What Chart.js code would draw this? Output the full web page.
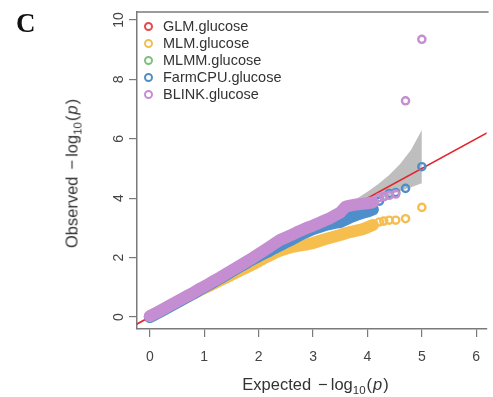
<!DOCTYPE html>
<html>
<head>
<meta charset="utf-8">
<script src="https://cdn.jsdelivr.net/npm/chart.js@4.4.0/dist/chart.umd.min.js"></script>
<style>
  body { margin: 0; background: #fff; font-family: "Liberation Sans", Arial, sans-serif; }
  #wrap { position: relative; width: 493px; height: 397px; overflow: hidden; }
  #chart { position: absolute; left: 0; top: 0; }
  .txt { position: absolute; white-space: nowrap; color: #333; }
  #panel { left: 16px; top: 10px; font: bold 27px "Liberation Serif", "DejaVu Serif", serif; line-height: 1; color: #111; }
  #xtitle { left: 316px; top: 385px; font-size: 16.5px; transform: translate(-50%, -50%); }
  #ytitle { left: 73px; top: 173px; font-size: 16.5px; transform: translate(-50%, -50%) rotate(-90deg); }
  .mn { margin: 0 3px 0 7px; }
  .par { margin: 0 1px; }
  sub { font-size: 11.5px; vertical-align: -4px; }
  #legend { position: absolute; left: 144px; top: 18px; font-size: 14.5px; color: #333; }
  .row { height: 17px; line-height: 17px; display: flex; align-items: center; }
  .dot { width: 5px; height: 5px; border-radius: 50%; border: 2px solid; margin-right: 10px; box-sizing: content-box; }
</style>
</head>
<body>
<div id="wrap">
  <canvas id="chart" width="493" height="397"></canvas>
  <div id="panel" class="txt">C</div>
  <div id="ytitle" class="txt">Observed<span class="mn">&minus;</span>log<sub>10</sub><span class="par">(</span><i>p</i><span class="par">)</span></div>
  <div id="xtitle" class="txt">Expected<span class="mn">&minus;</span>log<sub>10</sub><span class="par">(</span><i>p</i><span class="par">)</span></div>
  <div id="legend"></div>
</div>
<script>
// ---- data ----
const expected = [0, 0.1, 0.2, 0.3, 0.4, 0.5, 0.6, 0.7, 0.8, 0.9,
  1.0, 1.1, 1.2, 1.3, 1.4, 1.5, 1.6, 1.7, 1.8, 1.9,
  2.0, 2.1, 2.2, 2.3, 2.4, 2.5, 2.6, 2.7, 2.8, 2.9,
  3.0, 3.1, 3.2, 3.3, 3.4, 3.5, 3.6, 3.7, 3.8, 3.9,
  4.0, 4.1, 4.22, 4.30, 4.40, 4.52, 4.70, 5.00];

const glm = [];   // hidden under the other series
const mlmm = [];  // hidden under the other series

const mlm = [0.02, 0.11, 0.21, 0.31, 0.41, 0.5, 0.6, 0.69, 0.79, 0.88,
  0.97, 1.06, 1.15, 1.24, 1.33, 1.42, 1.51, 1.6, 1.69, 1.78,
  1.88, 1.98, 2.07, 2.16, 2.24, 2.3, 2.35, 2.39, 2.42, 2.45,
  2.49, 2.55, 2.61, 2.66, 2.71, 2.76, 2.82, 2.87, 2.91, 2.95,
  3.02, 3.1, 3.2, 3.23, 3.26, 3.26, 3.31, 3.69];

const farmcpu = [0.0, 0.09, 0.19, 0.29, 0.39, 0.49, 0.59, 0.69, 0.79, 0.9,
  1.0, 1.1, 1.21, 1.31, 1.42, 1.53, 1.64, 1.74, 1.85, 1.95,
  2.05, 2.14, 2.23, 2.33, 2.42, 2.52, 2.6, 2.7, 2.8, 2.88,
  2.96, 3.02, 3.08, 3.13, 3.17, 3.2, 3.28, 3.37, 3.44, 3.5,
  3.55, 3.62, 3.9, 4.05, 4.16, 4.19, 4.33, 5.06];

const blink = [0.03, 0.12, 0.22, 0.32, 0.42, 0.52, 0.62, 0.72, 0.82, 0.93,
  1.03, 1.13, 1.24, 1.34, 1.45, 1.56, 1.67, 1.78, 1.89, 2.0,
  2.12, 2.24, 2.36, 2.48, 2.6, 2.68, 2.76, 2.85, 2.93, 3.01,
  3.08, 3.16, 3.24, 3.32, 3.42, 3.52, 3.72, 3.76, 3.79, 3.81,
  3.83, 3.86, 4.02, 4.06, 4.1, 4.14, 7.28, 9.35];

// 95% band
const ciX = [2.5, 3.0, 3.5, 3.8, 4.0, 4.2, 4.4, 4.6, 4.8, 5.0];
const ciUpper = [2.62, 3.15, 3.65, 3.98, 4.22, 4.48, 4.78, 5.15, 5.62, 6.3];
const ciLower = [2.4, 2.88, 3.36, 3.62, 3.8, 3.96, 4.1, 4.24, 4.37, 4.5];

// y = x reference line
const refX = [-0.5, 6.5];

const xTicks = [0, 1, 2, 3, 4, 5, 6];
const yTicks = [0, 2, 4, 6, 8, 10];

const seriesNames = ["GLM.glucose", "MLM.glucose", "MLMM.glucose", "FarmCPU.glucose", "BLINK.glucose"];
const seriesColors = ["#E5484D", "#F5BE4E", "#7FBF7F", "#4E8FCB", "#C58ED2"];

// ---- chart ----
const tailStart = 4.15;   // sparse tail: open rings only, no band
const boxColor = "#7a7a7a";

function pts(ys) { return ys.map((v, i) => ({ x: expected[i], y: v })); }

function series(i, ys, order) {
  const c = seriesColors[i];
  return {
    label: seriesNames[i],
    data: pts(ys),
    order: order,
    showLine: true,
    borderWidth: 12,
    borderCapStyle: "round",
    borderJoinStyle: "round",
    borderColor: c,
    segment: {
      borderColor: (ctx) => ctx.p1.parsed.x > tailStart ? "rgba(0,0,0,0)" : c
    },
    pointRadius: 3.6,
    pointBorderWidth: 2.4,
    pointBorderColor: c,
    pointBackgroundColor: (ctx) => (ctx.raw && ctx.raw.x >= tailStart) ? "rgba(0,0,0,0)" : c
  };
}

const boxPlugin = {
  id: "boxAndYLabels",
  afterDraw(chart) {
    const ctx = chart.ctx, a = chart.chartArea, ys = chart.scales.y;
    ctx.save();
    ctx.strokeStyle = boxColor;
    ctx.lineWidth = 1.5;
    ctx.beginPath();
    ctx.moveTo(a.left, a.top);
    ctx.lineTo(a.right + 2, a.top);
    ctx.stroke();
    ctx.font = '14px "Liberation Sans", Arial, sans-serif';
    ctx.fillStyle = "#444";
    ctx.textAlign = "center";
    ctx.textBaseline = "middle";
    ys.ticks.forEach(t => {
      const py = ys.getPixelForValue(t.value);
      ctx.save();
      ctx.translate(119, py);
      ctx.rotate(-Math.PI / 2);
      ctx.fillText(String(t.value), 0, 0);
      ctx.restore();
    });
    ctx.restore();
  }
};

const chart = new Chart(document.getElementById("chart"), {
  type: "scatter",
  data: {
    datasets: [
      series(0, glm, 3),
      series(1, mlm, 5),
      series(2, mlmm, 4),
      series(3, farmcpu, 2),
      series(4, blink, 1),
      {
        label: "ciUpper",
        data: ciX.map((x, i) => ({ x, y: ciUpper[i] })),
        showLine: true, pointRadius: 0, borderWidth: 0,
        borderColor: "rgba(0,0,0,0)",
        backgroundColor: "#BEBEBE",
        fill: "+1", order: 20
      },
      {
        label: "ciLower",
        data: ciX.map((x, i) => ({ x, y: ciLower[i] })),
        showLine: true, pointRadius: 0, borderWidth: 0,
        borderColor: "rgba(0,0,0,0)",
        fill: false, order: 21
      },
      {
        label: "ref",
        data: refX.map(x => ({ x, y: x })),
        showLine: true, pointRadius: 0, borderWidth: 1.6,
        borderColor: "#E0262B", fill: false, order: 10
      }
    ]
  },
  options: {
    responsive: false,
    animation: false,
    layout: { padding: { top: 12, right: 0, left: 0, bottom: 0 } },
    plugins: { legend: { display: false }, tooltip: { enabled: false } },
    scales: {
      x: {
        type: "linear",
        min: -0.235, max: 6.19,
        afterBuildTicks: s => { s.ticks = xTicks.map(v => ({ value: v })); },
        afterFit: s => { s.height = 68; },
        grid: { drawOnChartArea: false, drawTicks: true, tickLength: 8, color: boxColor, lineWidth: 1.2 },
        border: { display: true, color: boxColor, width: 1.5 },
        ticks: { color: "#444", font: { size: 14, family: '"Liberation Sans", Arial, sans-serif' }, padding: 12, maxRotation: 0 }
      },
      y: {
        type: "linear",
        min: -0.404, max: 10.27,
        afterBuildTicks: s => { s.ticks = yTicks.map(v => ({ value: v })); },
        afterFit: s => { s.width = 137; },
        grid: { drawOnChartArea: false, drawTicks: true, tickLength: 8, color: boxColor, lineWidth: 1.2 },
        border: { display: true, color: boxColor, width: 1.5 },
        ticks: { display: false }
      }
    }
  },
  plugins: [boxPlugin]
});

// legend inside the plot, built from the same names/colours
const legend = document.getElementById("legend");
seriesNames.forEach((name, i) => {
  const row = document.createElement("div");
  row.className = "row";
  const dot = document.createElement("span");
  dot.className = "dot";
  dot.style.borderColor = seriesColors[i];
  const label = document.createElement("span");
  label.textContent = name;
  row.appendChild(dot);
  row.appendChild(label);
  legend.appendChild(row);
});
</script>
</body>
</html>
